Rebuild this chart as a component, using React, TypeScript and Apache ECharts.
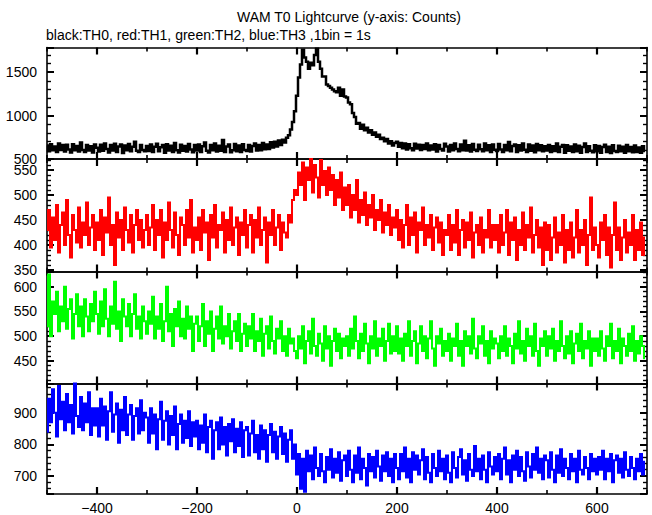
import React, { useEffect, useRef } from "react";
import * as echarts from "echarts";

// ---- data (1 bin shown every 4 s, starting at t = -500 s) ----
const BIN_START = -500;
const BIN_STEP = 4;

const th0: number[] = [
  655,590,670,600,645,580,680,605,660,585,665,610,575,670,600,650,585,690,605,580,660,598,648,575,668,
  630,585,665,595,680,615,575,660,598,675,582,645,668,570,655,600,672,588,640,700,595,580,662,605,588,
  650,592,668,580,640,675,588,635,662,572,670,598,652,580,685,602,575,665,595,650,585,672,610,578,660,
  598,668,582,648,690,594,576,662,602,678,585,652,596,720,580,645,668,578,600,672,590,655,582,670,605,
  592,662,585,650,680,598,662,602,684,612,668,615,692,632,700,645,712,660,722,690,745,775,840,925,1050,
  1230,1440,1590,1760,1670,1620,1540,1610,1580,1700,1770,1620,1540,1450,1450,1360,1340,1320,1300,1280,1270,1320,1230,1300,1220,
  1210,1150,1130,1030,985,905,915,850,895,830,860,805,830,780,805,755,780,730,745,705,730,680,705,655,685,
  700,640,685,625,680,610,670,625,600,675,620,665,605,660,615,680,600,655,610,670,585,662,615,598,675,
  645,585,662,600,680,615,590,668,602,710,598,658,585,672,608,592,665,612,588,678,600,658,580,668,608,
  592,672,610,582,662,602,695,588,650,668,580,658,598,678,608,582,668,595,655,578,672,602,658,588,648,
  598,662,580,648,592,680,582,642,662,572,658,595,645,582,668,588,652,572,638,678,582,648,595,578,658,
  588,650,572,638,665,582,642,568,658,592,580,654,588,642,572,662,590,638,578,655,582,632,572,648,592,
];

const th1: number[] = [
  430,470,395,455,410,480,385,440,465,400,490,420,375,460,430,405,475,395,445,420,485,400,435,460,390,
  445,410,470,380,455,425,495,400,440,360,465,415,450,390,475,430,405,460,385,440,470,410,450,395,430,
  460,400,435,480,390,450,420,470,375,445,410,485,430,395,465,420,380,455,440,400,470,415,490,385,435,
  410,455,390,470,425,445,370,460,415,480,395,440,430,465,385,450,410,475,400,435,455,380,445,420,470,
  395,440,460,385,450,415,475,400,430,455,365,445,420,470,400,435,460,390,445,425,415,460,445,490,510,
  500,545,520,565,490,555,530,572,505,560,535,495,570,520,548,500,555,510,540,480,530,495,545,470,515,
  480,520,455,500,470,530,445,490,460,505,440,480,455,500,430,470,450,490,425,465,440,480,420,455,435,
  470,410,450,395,440,480,400,455,420,465,385,445,430,475,400,440,415,460,390,435,455,405,445,380,430,
  420,460,390,440,405,470,380,430,450,395,445,410,465,375,425,440,400,455,385,430,415,470,395,440,410,
  440,385,460,400,425,470,380,445,410,455,370,430,400,465,390,440,415,475,385,420,450,395,435,360,445,
  390,440,370,415,455,385,425,400,460,365,430,390,445,375,415,470,385,430,400,450,360,420,495,390,435,
  400,375,445,410,460,380,435,355,420,485,390,435,370,415,450,385,425,400,460,370,430,390,445,380,415,
];

const th2: number[] = [
  520,625,500,570,545,590,510,560,530,600,515,555,575,495,545,585,520,560,500,575,540,510,565,530,590,
  545,505,570,520,595,535,500,560,525,610,515,550,490,575,540,520,565,500,545,585,515,540,495,560,530,
  505,550,525,580,495,540,515,565,490,530,600,510,545,480,555,520,570,500,535,495,560,515,540,470,525,
  540,490,520,565,480,530,505,550,470,515,540,495,560,485,520,500,545,475,510,530,490,545,470,505,525,
  480,520,495,545,470,510,490,535,460,505,520,475,540,490,465,515,495,530,470,500,460,515,485,495,470,
  455,500,475,520,445,490,510,465,535,480,460,505,485,450,520,475,500,440,490,515,470,505,455,495,480,
  500,460,515,475,540,490,455,505,470,525,485,445,500,475,530,460,495,480,515,450,490,525,465,500,470,
  520,465,495,450,505,480,530,460,490,510,445,485,520,470,500,455,495,530,475,440,500,485,515,460,490,
  470,505,450,495,480,525,460,490,440,510,480,500,465,535,475,455,500,485,520,460,490,445,510,475,495,
  485,455,500,470,520,460,495,480,445,505,475,530,465,490,450,515,480,500,460,525,470,440,495,480,510,
  460,500,475,515,450,490,470,530,480,455,500,465,510,445,485,505,470,525,455,490,475,510,440,495,470,
  495,460,510,475,450,500,480,525,455,490,470,515,445,495,480,460,505,470,520,450,490,465,500,480,455,
];

const th3: number[] = [
  840,945,870,975,900,825,985,880,935,845,960,870,925,835,995,890,855,950,845,930,870,965,830,915,860,
  915,825,945,860,920,815,905,965,840,895,930,805,910,845,950,830,895,925,815,890,915,835,940,845,900,
  885,805,915,835,895,785,880,935,815,875,905,800,890,830,920,785,865,895,805,875,820,905,795,870,825,
  875,785,860,805,895,775,855,875,755,845,870,785,885,800,855,765,865,810,880,775,850,795,870,760,845,
  855,765,835,875,775,830,755,860,785,845,745,830,865,775,840,755,825,855,770,835,745,815,845,755,800,
  705,770,660,755,650,780,715,765,690,790,725,700,770,715,680,760,720,785,695,755,710,775,685,750,765,
  700,780,720,680,765,710,790,690,755,725,670,770,715,760,695,780,730,685,765,715,775,700,755,680,770,
  725,690,770,715,790,695,755,680,775,720,765,705,750,785,690,760,710,680,770,725,700,780,715,755,690,
  765,710,680,775,725,695,760,785,705,750,685,770,720,700,795,715,755,690,765,720,680,775,730,705,760,
  715,770,690,755,790,705,750,680,765,720,780,700,760,715,685,775,730,695,770,720,790,710,755,690,765,
  750,695,775,720,680,765,710,785,700,755,725,690,770,715,755,680,780,720,705,760,725,690,770,715,755,
  705,760,720,780,690,755,715,770,680,750,765,710,755,695,775,720,700,760,725,690,755,715,770,705,745,
];

const seriesNames = ["TH0", "TH1", "TH2", "TH3"];
const seriesData = [th0, th1, th2, th3];

// axis ranges and tick labels
const xMin = -500;
const xMax = 700;
const xLabelValues = [-400, -200, 0, 200, 400, 600];
const yMins = [500, 347, 404, 643];
const yMaxs = [1785, 572, 631, 993];
const yLabelSteps = [500, 50, 50, 100];

const titleText = "WAM T0 Lightcurve (y-axis: Counts)";
const subtitleText = "black:TH0, red:TH1, green:TH2, blue:TH3 ,1bin = 1s";

// ---- styling ----
const colors = ["#000000", "#ff0000", "#00ff00", "#0000ff"];
const lineWidths = [2.5, 2, 2, 2];
const gridTops = [47.5, 159, 271.5, 383.5];
const gridHeights = [111.5, 112.5, 112, 112.5];
const GRID_LEFT = 47;
const GRID_WIDTH = 600;
const FONT = "'Liberation Sans', Arial, Helvetica, sans-serif";

const fmtNum = (v: number) => (v < 0 ? "\u2212" + Math.abs(v) : String(v));

function buildOption() {
  const axisLineStyle = { color: "#000", width: 1.6 };
  const grids: any[] = [];
  const xAxes: any[] = [];
  const yAxes: any[] = [];
  const series: any[] = [];

  for (let i = 0; i < 4; i++) {
    grids.push({
      left: GRID_LEFT,
      top: gridTops[i],
      width: GRID_WIDTH,
      height: gridHeights[i],
      containLabel: false,
    });

    // base ticks (every 200 from -500) are the short odd-hundred ticks;
    // minor ticks split them in two -> the long ticks at multiples of 200
    const xCommon = {
      gridIndex: i,
      type: "value",
      min: xMin,
      max: xMax,
      interval: 200,
      axisLine: { show: true, onZero: false, lineStyle: axisLineStyle },
      axisTick: { show: true, inside: true, length: 4, lineStyle: { color: "#000", width: 1.6 } },
      minorTick: { show: true, splitNumber: 2, length: 7, lineStyle: { color: "#000", width: 2.2 } },
      splitLine: { show: false },
      minorSplitLine: { show: false },
    };
    xAxes.push({
      ...xCommon,
      position: "bottom",
      axisLabel: {
        show: i === 3,
        customValues: xLabelValues,
        margin: 7,
        color: "#000",
        fontSize: 14,
        fontFamily: FONT,
        formatter: (v: number) => fmtNum(v),
      },
    });
    xAxes.push({ ...xCommon, position: "top", axisLabel: { show: false } });

    const step = yLabelSteps[i];
    const yCommon: any = {
      gridIndex: i,
      type: "value",
      min: yMins[i],
      max: yMaxs[i],
      axisLine: { show: true, onZero: false, lineStyle: axisLineStyle },
      axisTick: { show: true, inside: true, length: 7, lineStyle: { color: "#000", width: 2 } },
      minorTick: { show: true, splitNumber: 5, length: 4, lineStyle: { color: "#000", width: 1.4 } },
      splitLine: { show: false },
      minorSplitLine: { show: false },
    };
    if (i === 0) yCommon.interval = step;
    else yCommon.splitNumber = i === 3 ? 3 : 5;

    yAxes.push({
      ...yCommon,
      position: "left",
      axisLabel: {
        show: true,
        margin: 10,
        color: "#000",
        fontSize: 14,
        fontFamily: FONT,
        formatter: (v: number) => (Math.abs(v % step) < 1e-6 ? fmtNum(v) : ""),
      },
    });
    yAxes.push({ ...yCommon, position: "right", axisLabel: { show: false } });

    series.push({
      name: seriesNames[i],
      type: "line",
      xAxisIndex: 2 * i,
      yAxisIndex: 2 * i,
      data: seriesData[i].map((v, k) => [BIN_START + BIN_STEP * k, v]),
      step: "middle",
      symbol: "none",
      showSymbol: false,
      silent: true,
      clip: true,
      lineStyle: { color: colors[i], width: lineWidths[i], join: "miter", cap: "butt" },
      itemStyle: { color: colors[i] },
    });
  }

  return {
    animation: false,
    backgroundColor: "#ffffff",
    grid: grids,
    xAxis: xAxes,
    yAxis: yAxes,
    series,
    graphic: [
      {
        type: "text",
        x: 349,
        y: 17,
        style: {
          text: titleText,
          fill: "#000",
          font: `14px ${FONT}`,
          align: "center",
          verticalAlign: "middle",
        },
      },
      {
        type: "text",
        x: 46,
        y: 35,
        style: {
          text: subtitleText,
          fill: "#000",
          font: `14px ${FONT}`,
          align: "left",
          verticalAlign: "middle",
        },
      },
    ],
  };
}

export default function App() {
  const ref = useRef<HTMLDivElement | null>(null);
  useEffect(() => {
    if (!ref.current) return;
    const chart = echarts.init(ref.current, undefined, { renderer: "svg" });
    chart.setOption(buildOption() as any);
    return () => chart.dispose();
  }, []);
  return (
    <div
      ref={ref}
      style={{ position: "absolute", left: 0, top: 0, width: 652, height: 515, background: "#fff" }}
    />
  );
}
